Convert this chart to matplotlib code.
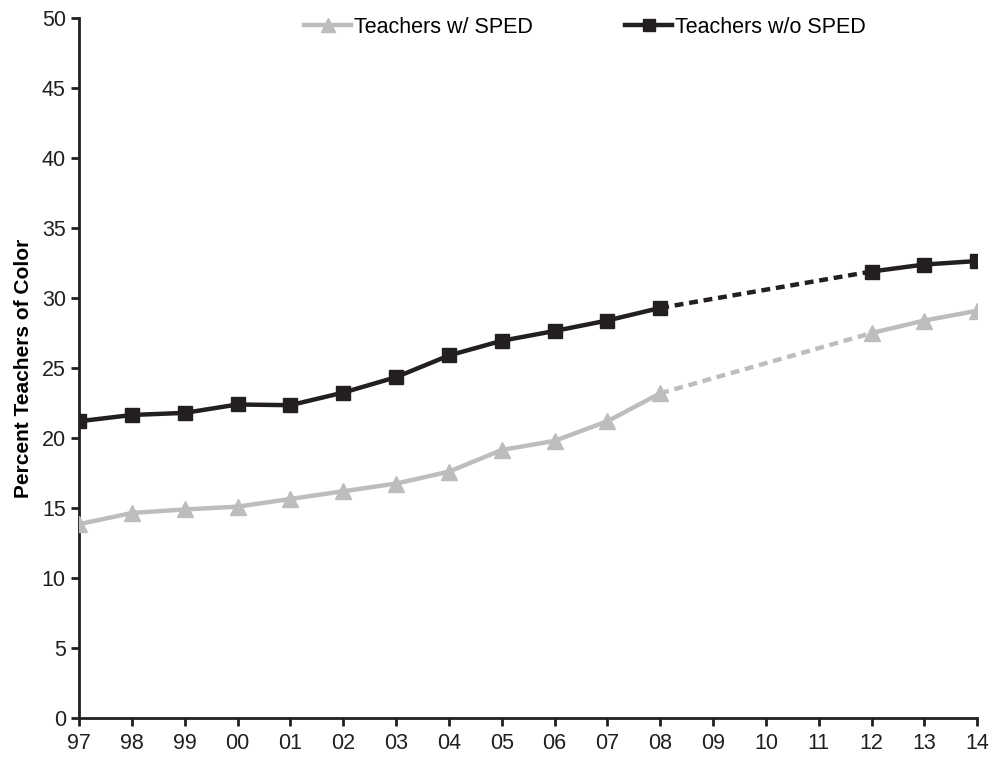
import matplotlib
matplotlib.use("Agg")
import matplotlib.pyplot as plt
import numpy as np

plt.rcParams['font.family'] = ['Liberation Sans', 'DejaVu Sans']

# School years (two-digit labels), 09-11 have no data
years = ['97', '98', '99', '00', '01', '02', '03', '04', '05', '06', '07', '08',
         '09', '10', '11', '12', '13', '14']
with_sped = [13.85, 14.65, 14.9, 15.1, 15.65, 16.2, 16.75, 17.6, 19.15, 19.8, 21.2, 23.2,
             None, None, None, 27.5, 28.4, 29.1]
without_sped = [21.2, 21.65, 21.8, 22.4, 22.35, 23.25, 24.35, 25.9, 26.95, 27.65, 28.4, 29.3,
                None, None, None, 31.9, 32.4, 32.65]

x = np.arange(len(years))


def split(vals):
    arr = np.array([np.nan if v is None else v for v in vals], dtype=float)
    first = arr.copy()
    first[12:] = np.nan
    second = arr.copy()
    second[:15] = np.nan
    # dashed bridge over the missing years
    gap_x = [11, 15]
    gap_y = [arr[11], arr[15]]
    return first, second, gap_x, gap_y


fig = plt.figure(figsize=(9.93, 7.57), dpi=100)
ax = fig.add_axes([0.0796, 0.0515, 0.9045, 0.9245])

series = [
    (with_sped, '#bdbdbf', '^', 'Teachers w/ SPED', 12),
    (without_sped, '#231f20', 's', 'Teachers w/o SPED', 10.5),
]
for vals, color, marker, label, ms in series:
    a, b, gx, gy = split(vals)
    ax.plot(gx, gy, color=color, lw=3.2, ls=(0, (2, 1.3)), zorder=2)
    ax.plot(x, a, color=color, lw=3.2, marker=marker, ms=ms, label=label, zorder=3)
    ax.plot(x, b, color=color, lw=3.2, marker=marker, ms=ms, zorder=3)

ax.set_xlim(0, len(years) - 1)
ax.set_ylim(0, 50)
ax.set_xticks(x)
ax.set_xticklabels(years)
ax.set_yticks(range(0, 51, 5))
ax.tick_params(labelsize=15.5, width=2, length=6, colors='#231f20')
ax.tick_params(axis='x', pad=5)
for s in ['top', 'right']:
    ax.spines[s].set_visible(False)
for s in ['left', 'bottom']:
    ax.spines[s].set_linewidth(2)
    ax.spines[s].set_color('#231f20')
    ax.spines[s].set_clip_on(False)

ax.set_ylabel('Percent Teachers of Color', fontsize=15, fontweight='bold', labelpad=6)

ax.legend(loc='upper center', bbox_to_anchor=(0.563, 1.03), ncol=2, frameon=False,
          fontsize=15.5, handlelength=2.2, handletextpad=0.1, columnspacing=4.3,
          markerscale=0.8)

fig.savefig('out.png', dpi=100)
